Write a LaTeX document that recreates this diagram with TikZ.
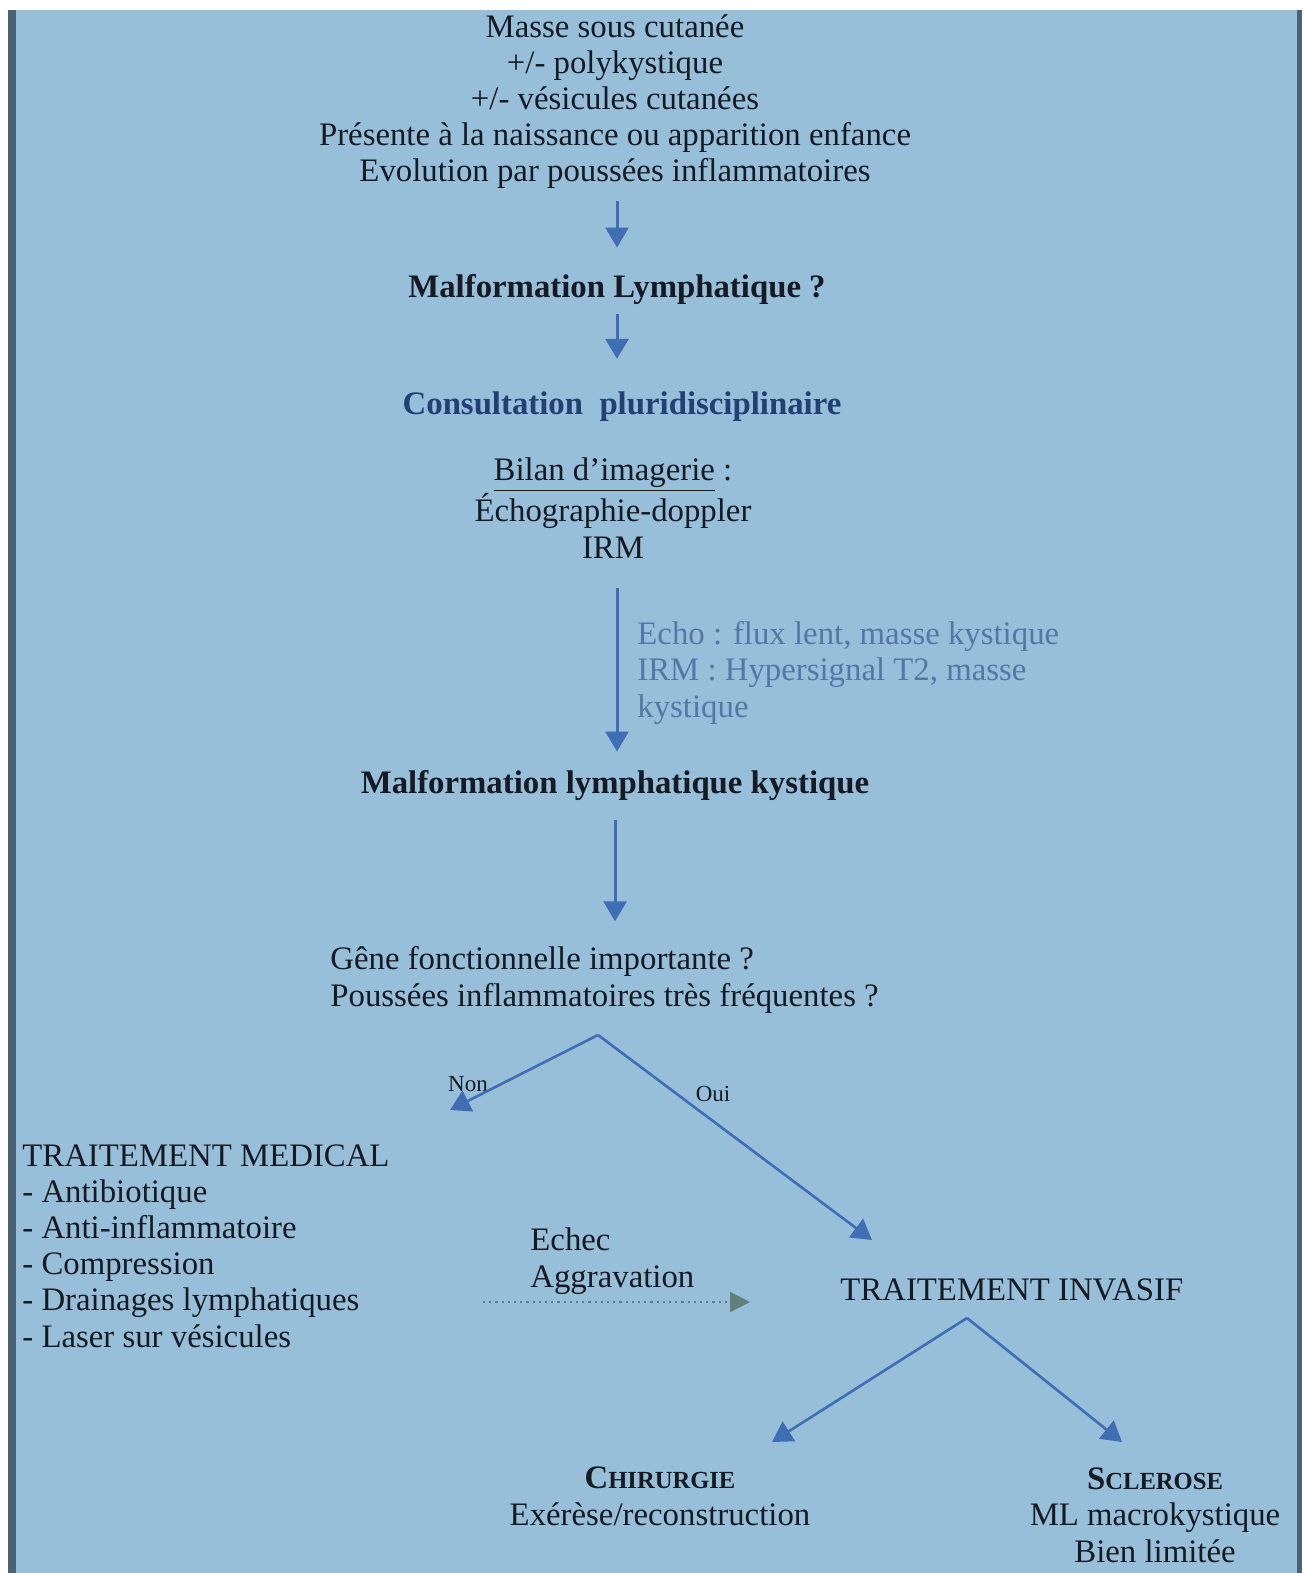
\documentclass[tikz,border=0pt]{standalone}
\usepackage{fontspec}
\setmainfont{Liberation Serif}
\usetikzlibrary{arrows.meta}
\definecolor{bg}{HTML}{98BFD9}
\definecolor{barc}{HTML}{4A6276}
\definecolor{arrblue}{HTML}{3F6EB5}
\definecolor{txt}{HTML}{161A22}
\definecolor{navy}{HTML}{233F75}
\definecolor{lbl}{HTML}{5676A8}
\definecolor{dotc}{HTML}{5E7A8A}
\definecolor{dothead}{HTML}{62807A}
\begin{document}
\begin{tikzpicture}[x=0.5pt,y=-0.5pt,
  tx/.style={inner sep=0pt, text=txt, font=\fontsize{16.4}{18.1}\selectfont},
  bx/.style={tx, font=\fontsize{16.4}{18.1}\selectfont\bfseries},
  small/.style={inner sep=0pt, text=txt, font=\fontsize{11.5}{13}\selectfont},
  arr/.style={draw=arrblue, line width=1.5pt, -{Triangle[width=11.5pt,length=10pt]}},
  brarr/.style={draw=arrblue, line width=1.3pt, -{Triangle[width=11.5pt,length=10pt]}},
  dotarr/.style={draw=dotc, line width=1.1pt, dotted, -{Triangle[width=10pt,length=10pt,fill=dothead,color=dothead]}}
]
\useasboundingbox (0,0) rectangle (1306,1573);
% background
\fill[bg] (16,10) rectangle (1297,1573);
\fill[barc] (8,10) rectangle (16,1573);
\fill[barc] (1297,10) rectangle (1302,1573);

% texts (multi-line nodes: base = last line's baseline)
\node[tx, align=center, anchor=base] (top) at (615,182)
  {Masse sous cutanée\\+/- polykystique\\+/- vésicules cutanées\\Présente à la naissance ou apparition enfance\\Evolution par poussées inflammatoires};
\node[bx, anchor=base] (ml1) at (617,297) {Malformation Lymphatique ?};
\node[bx, anchor=base, text=navy] (consult) at (622,414) {Consultation\ \ pluridisciplinaire};
\node[tx, align=center, anchor=base] (bilan) at (613,558)
  {\underline{Bilan d’imagerie} :\\Échographie-doppler\\IRM};
\node[tx, align=left, anchor=base west, text=lbl] (lab) at (637,717)
  {Echo : flux lent, masse kystique\\IRM : Hypersignal T2, masse\\kystique};
\node[bx, anchor=base] (mlk) at (615,793) {Malformation lymphatique kystique};
\node[tx, align=left, anchor=base west] (gene) at (330,1006)
  {Gêne fonctionnelle importante ?\\Poussées inflammatoires très fréquentes ?};
\node[tx, align=left, anchor=base west] (med) at (22,1347)
  {TRAITEMENT MEDICAL\\- Antibiotique\\- Anti-inflammatoire\\- Compression\\- Drainages lymphatiques\\- Laser sur vésicules};
\node[tx, align=left, anchor=base west] (echec) at (530,1287) {Echec\\Aggravation};
\node[tx, anchor=base west] (inv) at (840,1300) {TRAITEMENT INVASIF};
\node[tx, align=center, anchor=base] (chir) at (660,1525)
  {\textbf{C\fontsize{12.3}{14}\selectfont HIRURGIE}\\Exérèse/reconstruction};
\node[tx, align=center, anchor=base] (scl) at (1155,1562)
  {\textbf{S\fontsize{12.3}{14}\selectfont CLEROSE}\\ML macrokystique\\Bien limitée};
\node[small, anchor=base] (non) at (468,1091) {Non};
\node[small, anchor=base] (oui) at (713,1101) {Oui};

% vertical arrows
\draw[arr, shorten <=6pt, shorten >=13pt] (top.south -| ml1.north) -- (ml1.north);
\draw[arr, shorten <=5pt, shorten >=16pt] (ml1.south) -- (ml1.south |- consult.north);
\draw[arr, shorten <=15pt, shorten >=9pt] (bilan.south -| ml1.south) -- (ml1.south |- mlk.north);
\draw[arr, shorten <=10pt, shorten >=12.5pt] (mlk.south) -- (mlk.south |- gene.north);

% first branch
\coordinate (b1) at (598,1035);
\coordinate (nonend) at (450,1110);
\coordinate (ouiend) at (872,1240);
\draw[brarr] (b1) -- (nonend);
\draw[brarr] (b1) -- (ouiend);

% dotted
\coordinate (dstart) at (483,1302);
\coordinate (dend) at (750,1302);
\draw[dotarr] (dstart) -- (dend);

% second branch
\coordinate (b2) at (967,1318);
\coordinate (chend) at (772,1442);
\coordinate (scend) at (1122,1442);
\draw[brarr] (b2) -- (chend);
\draw[brarr] (b2) -- (scend);
\end{tikzpicture}
\end{document}
